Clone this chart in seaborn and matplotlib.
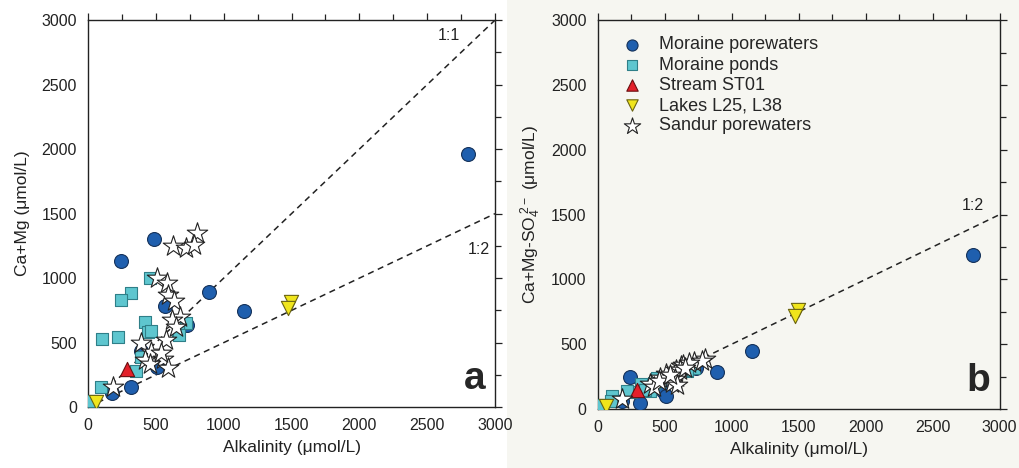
import numpy as np
import pandas as pd
import matplotlib
matplotlib.use("Agg")
import matplotlib.pyplot as plt
from matplotlib.ticker import MultipleLocator
from matplotlib.patches import Rectangle
import seaborn as sns

# ---------------- data ----------------
groups = ["Moraine porewaters", "Moraine ponds", "Stream ST01", "Lakes L25, L38", "Sandur porewaters"]

moraine_pw_alk = [490, 240, 890, 565, 1150, 730, 390, 510, 315, 180, 2800]
moraine_pw_camg = [1300, 1135, 895, 785, 745, 635, 435, 315, 160, 110, 1960]
moraine_pw_camgso4 = [140, 245, 283, 236, 445, 313, 167, 100, 50, 60, 1185]

ponds_alk = [455, 320, 246, 422, 442, 467, 106, 221, 720, 663, 668, 393, 351, 98, 30]
ponds_camg = [1000, 887, 830, 661, 579, 592, 525, 545, 656, 584, 563, 385, 279, 153, 50]
ponds_camgso4 = [230, 190, 135, 200, 240, 215, 100, 140, 320, 290, 300, 140, 150, 60, 30]

stream_alk = [290]
stream_camg = [292]
stream_camgso4 = [145]

lakes_alk = [1495, 1475, 61]
lakes_camg = [815, 765, 41]
lakes_camgso4 = [765, 715, 25]

sandur_alk = [800, 625, 722, 781, 506, 584, 592, 636, 678, 617, 577, 388, 467, 553, 418, 454, 590, 184, 540, 650]
sandur_camg = [1350, 1250, 1230, 1256, 1000, 964, 868, 824, 700, 674, 519, 494, 429, 377, 364, 338, 300, 153, 420, 620]
sandur_camgso4 = [385, 330, 360, 370, 270, 300, 250, 340, 355, 300, 230, 190, 240, 200, 170, 215, 185, 80, 260, 320]

ratio_lines = {"1:1": 1.0, "1:2": 0.5}

frames = []
for g, x, ya, yb in [
    (groups[0], moraine_pw_alk, moraine_pw_camg, moraine_pw_camgso4),
    (groups[1], ponds_alk, ponds_camg, ponds_camgso4),
    (groups[2], stream_alk, stream_camg, stream_camgso4),
    (groups[3], lakes_alk, lakes_camg, lakes_camgso4),
    (groups[4], sandur_alk, sandur_camg, sandur_camgso4),
]:
    frames.append(pd.DataFrame({"group": g, "alk": x, "camg": ya, "camgso4": yb}))
df = pd.concat(frames, ignore_index=True)

# ---------------- style ----------------
sns.set_style("white")
plt.rcParams["font.family"] = ["Liberation Sans", "DejaVu Sans"]
plt.rcParams["mathtext.fontset"] = "custom"
plt.rcParams["mathtext.rm"] = "Liberation Sans"
plt.rcParams["mathtext.it"] = "Liberation Sans"

palette = {
    groups[0]: "#1f5fae",
    groups[1]: "#5ec6cf",
    groups[2]: "#e3202a",
    groups[3]: "#f0e51c",
    groups[4]: "#ffffff",
}
markers = {groups[0]: "o", groups[1]: "s", groups[2]: "^", groups[3]: "v", groups[4]: "*"}
sizes = {groups[0]: 100, groups[1]: 85, groups[2]: 105, groups[3]: 105, groups[4]: 240}
edges = {groups[0]: "#15325a", groups[1]: "#2f7f88", groups[2]: "#6a0f10", groups[3]: "#6b6410", groups[4]: "#222222"}

fig = plt.figure(figsize=(10.2, 4.68), dpi=100, facecolor="white")
fig.patches.append(Rectangle((0.497, 0), 0.503, 1, transform=fig.transFigure,
                             facecolor="#f6f6f1", edgecolor="none", zorder=-10))
ax_a = fig.add_axes([0.0863, 0.130, 0.399, 0.827])
ax_b = fig.add_axes([0.586, 0.126, 0.394, 0.831])
ax_b.set_facecolor("#f6f6f1")
ax_a.set_facecolor("white")


def draw(ax, ycol, show_legend):
    for g in groups:
        sub = df[df.group == g]
        sns.scatterplot(data=sub, x="alk", y=ycol, ax=ax, color=palette[g], marker=markers[g],
                        s=sizes[g], edgecolor=edges[g], linewidth=0.8, label=g, zorder=3,
                        legend=show_legend)
    ax.set_xlim(0, 3000)
    ax.set_ylim(0, 3000)
    ax.xaxis.set_major_locator(MultipleLocator(500))
    ax.yaxis.set_major_locator(MultipleLocator(500))
    ax.xaxis.set_minor_locator(MultipleLocator(250))
    ax.yaxis.set_minor_locator(MultipleLocator(250))
    ax.tick_params(axis="both", which="both", direction="out", labelsize=11.5,
                   colors="#222222", top=True, right=True, pad=3)
    ax.tick_params(axis="both", which="major", length=5, width=0.9)
    ax.tick_params(axis="both", which="minor", length=4, width=0.9)
    for sp in ax.spines.values():
        sp.set_visible(True)
        sp.set_color("#222222")
        sp.set_linewidth(1.0)
    ax.set_xlabel("Alkalinity (μmol/L)", fontsize=12.5, color="#222222", labelpad=5)


draw(ax_a, "camg", False)
draw(ax_b, "camgso4", True)

xs = np.array([0, 3000])
for ax, keys in [(ax_a, ["1:1", "1:2"]), (ax_b, ["1:2"])]:
    for k in keys:
        ax.plot(xs, xs * ratio_lines[k], linestyle=(0, (4, 3)), color="#222222", linewidth=1.1, zorder=2)

ax_a.text(2580, 2880, "1:1", fontsize=11.5, ha="left", va="center", color="#222222")
ax_a.text(2800, 1220, "1:2", fontsize=11.5, ha="left", va="center", color="#222222")
ax_b.text(2720, 1570, "1:2", fontsize=11.5, ha="left", va="center", color="#222222")

ax_a.text(2930, 80, "a", fontsize=28, fontweight="bold", ha="right", va="bottom")
ax_b.text(2930, 80, "b", fontsize=28, fontweight="bold", ha="right", va="bottom")

ax_a.set_ylabel("Ca+Mg (μmol/L)", fontsize=12.5, color="#222222", labelpad=8)
ax_b.set_ylabel(r"Ca+Mg-SO$_4^{\ 2-}$ (μmol/L)", fontsize=12.5, color="#222222", labelpad=6)

leg = ax_b.legend(loc="upper left", frameon=False, fontsize=13, handletextpad=0.5,
                  labelspacing=0.18, borderaxespad=0.5, markerscale=0.8)

fig.savefig("out.png", dpi=100, facecolor=fig.get_facecolor())
